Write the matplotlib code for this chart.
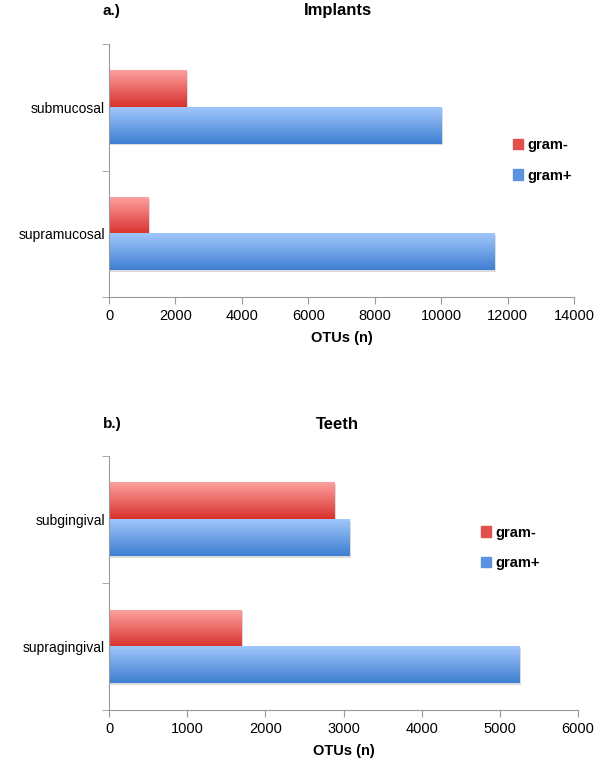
import numpy as np
import matplotlib
matplotlib.use('Agg')
import matplotlib.pyplot as plt
from matplotlib.colors import LinearSegmentedColormap
from matplotlib.patches import Patch

plt.rcParams['font.family'] = ['Liberation Sans', 'DejaVu Sans']

implant_sites = ['submucosal', 'supramucosal']
implant_neg = [2340, 1200]
implant_pos = [10000, 11600]

teeth_sites = ['subgingival', 'supragingival']
teeth_neg = [2880, 1700]
teeth_pos = [3080, 5250]

red_cm = LinearSegmentedColormap.from_list('r', ['#d9322e', '#fca09e'])
blue_cm = LinearSegmentedColormap.from_list('b', ['#3f7fd2', '#a0c6fb'])
grad = np.linspace(0, 1, 64).reshape(-1, 1)

h = 0.288


def panel(ax, sites, neg, pos, xmax, step):
    ypos = np.arange(len(sites))[::-1]
    for cm, vals, off in [(red_cm, neg, h / 2), (blue_cm, pos, -h / 2)]:
        bars = ax.barh(ypos + off, vals, height=h, color='none', edgecolor='none')
        for b in bars:
            x0, y0 = b.get_x(), b.get_y()
            # faint shadow under each bar
            ax.add_patch(plt.Rectangle((x0, y0 - 0.012), b.get_width() + xmax * 0.003, b.get_height(),
                                       color='#bbbbbb', alpha=0.5, zorder=1, lw=0))
            ax.imshow(grad, extent=[x0, x0 + b.get_width(), y0, y0 + b.get_height()],
                      origin='lower', aspect='auto', cmap=cm, zorder=2)
    ax.set_xlim(0, xmax)
    ax.set_ylim(-0.5, len(sites) - 0.5)
    ax.set_xticks(np.arange(0, xmax + 1, step))
    ax.set_yticks(ypos)
    ax.set_yticklabels(sites, fontsize=10)
    ax.set_yticks(np.arange(-0.5, len(sites), 1.0), minor=True)
    ax.tick_params(axis='y', which='major', length=0, pad=3)
    ax.tick_params(axis='y', which='minor', length=5, color='#999999')
    ax.tick_params(axis='x', length=5, color='#999999', labelsize=10.5)
    for s in ['top', 'right']:
        ax.spines[s].set_visible(False)
    for s in ['left', 'bottom']:
        ax.spines[s].set_color('#999999')
    ax.set_xlabel('OTUs (n)', fontweight='bold', fontsize=10.5, labelpad=6)


fig = plt.figure(figsize=(6, 7.67), dpi=100)
ax1 = fig.add_axes([0.1817, 0.6128, 0.775, 0.3298])
ax2 = fig.add_axes([0.1817, 0.0743, 0.7817, 0.3312])

panel(ax1, implant_sites, implant_neg, implant_pos, 14000, 2000)
panel(ax2, teeth_sites, teeth_neg, teeth_pos, 6000, 1000)

fig.text(0.17, 0.9857, 'a.)', fontweight='bold', fontsize=11, va='center')
fig.text(0.563, 0.9857, 'Implants', fontweight='bold', fontsize=12, va='center', ha='center')
fig.text(0.172, 0.447, 'b.)', fontweight='bold', fontsize=11, va='center')
fig.text(0.5625, 0.447, 'Teeth', fontweight='bold', fontsize=12, va='center', ha='center')

handles = [Patch(color='#e0504c', label='gram-'), Patch(color='#5b93de', label='gram+')]
for x, y in [(0.855, 0.791), (0.802, 0.2855)]:
    fig.legend(handles=handles, loc='center left', bbox_to_anchor=(x, y), frameon=False,
               prop={'weight': 'bold', 'size': 10.5}, handlelength=0.7, handleheight=0.7,
               handletextpad=0.3, labelspacing=1.15, borderpad=0, borderaxespad=0)

fig.savefig('out.png', dpi=100)
